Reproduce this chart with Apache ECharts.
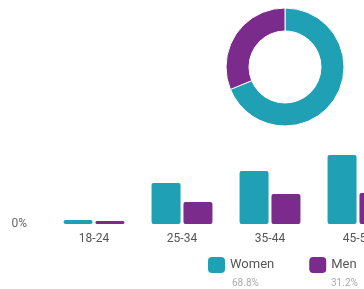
<!DOCTYPE html>
<html>
<head>
<meta charset="utf-8">
<script src="https://cdn.jsdelivr.net/npm/echarts@6/dist/echarts.min.js"></script>
<style>
  html, body { margin: 0; padding: 0; background: #fff; }
  #chart { width: 364px; height: 289px; }
</style>
</head>
<body>
<div id="chart"></div>
<script>
// age groups shown (chart is cropped on the right)
const ageGroups = ['18-24', '25-34', '35-44', '45-54'];
const womenByAge = [1.2, 12.3, 15.9, 20.7];
const menByAge = [0.9, 6.6, 9.0, 9.3];

const genders = ['Women', 'Men'];
const genderShare = [68.8, 31.2];
const colors = ['#1fa0b4', '#7b2b8c'];

const chart = echarts.init(document.getElementById('chart'));

const opts = {
  animation: false,
  color: colors,
  textStyle: { fontFamily: 'Roboto' },
  // right edge runs past the canvas, like the cropped original
  grid: { left: 50, top: 124, right: -38, bottom: 65, outerBoundsMode: 'none', containLabel: false },
  legend: {
    data: genders,
    left: 203,
    top: 252,
    width: 300,
    itemWidth: 17,
    itemHeight: 16,
    itemGap: 35,
    icon: 'roundRect',
    textStyle: { color: '#555', fontSize: 13 },
  },
  xAxis: {
    type: 'category',
    data: ageGroups,
    axisLine: { show: false },
    axisTick: { show: false },
    axisLabel: { color: '#555', fontSize: 12, margin: 9 },
  },
  yAxis: {
    type: 'value',
    min: 0,
    max: 30,
    interval: 30,
    splitLine: { show: false },
    axisLabel: {
      color: '#666',
      fontSize: 12,
      margin: 23,
      formatter: (v) => (v === 0 ? '0%' : ''),
    },
  },
  series: [
    {
      name: 'Women',
      type: 'bar',
      data: womenByAge,
      barWidth: 29,
      barGap: '10%',
      itemStyle: { borderRadius: 2 },
    },
    {
      name: 'Men',
      type: 'bar',
      data: menByAge,
      barWidth: 29,
      itemStyle: { borderRadius: 2 },
    },
    {
      type: 'pie',
      center: [285, 67],
      radius: [36, 59],
      startAngle: 90,
      label: { show: false },
      labelLine: { show: false },
      itemStyle: { borderColor: '#fff', borderWidth: 1 },
      data: genders.map((g, i) => ({ name: g, value: genderShare[i] })),
    },
  ],
  graphic: genders.map((g, i) => ({
    type: 'text',
    left: i === 0 ? 232 : 331,
    top: 278,
    style: {
      text: `${genderShare[i]}%`,
      fill: '#aaa',
      fontSize: 10,
      fontFamily: 'Roboto',
    },
  })),
};

chart.setOption(opts);
</script>
</body>
</html>
